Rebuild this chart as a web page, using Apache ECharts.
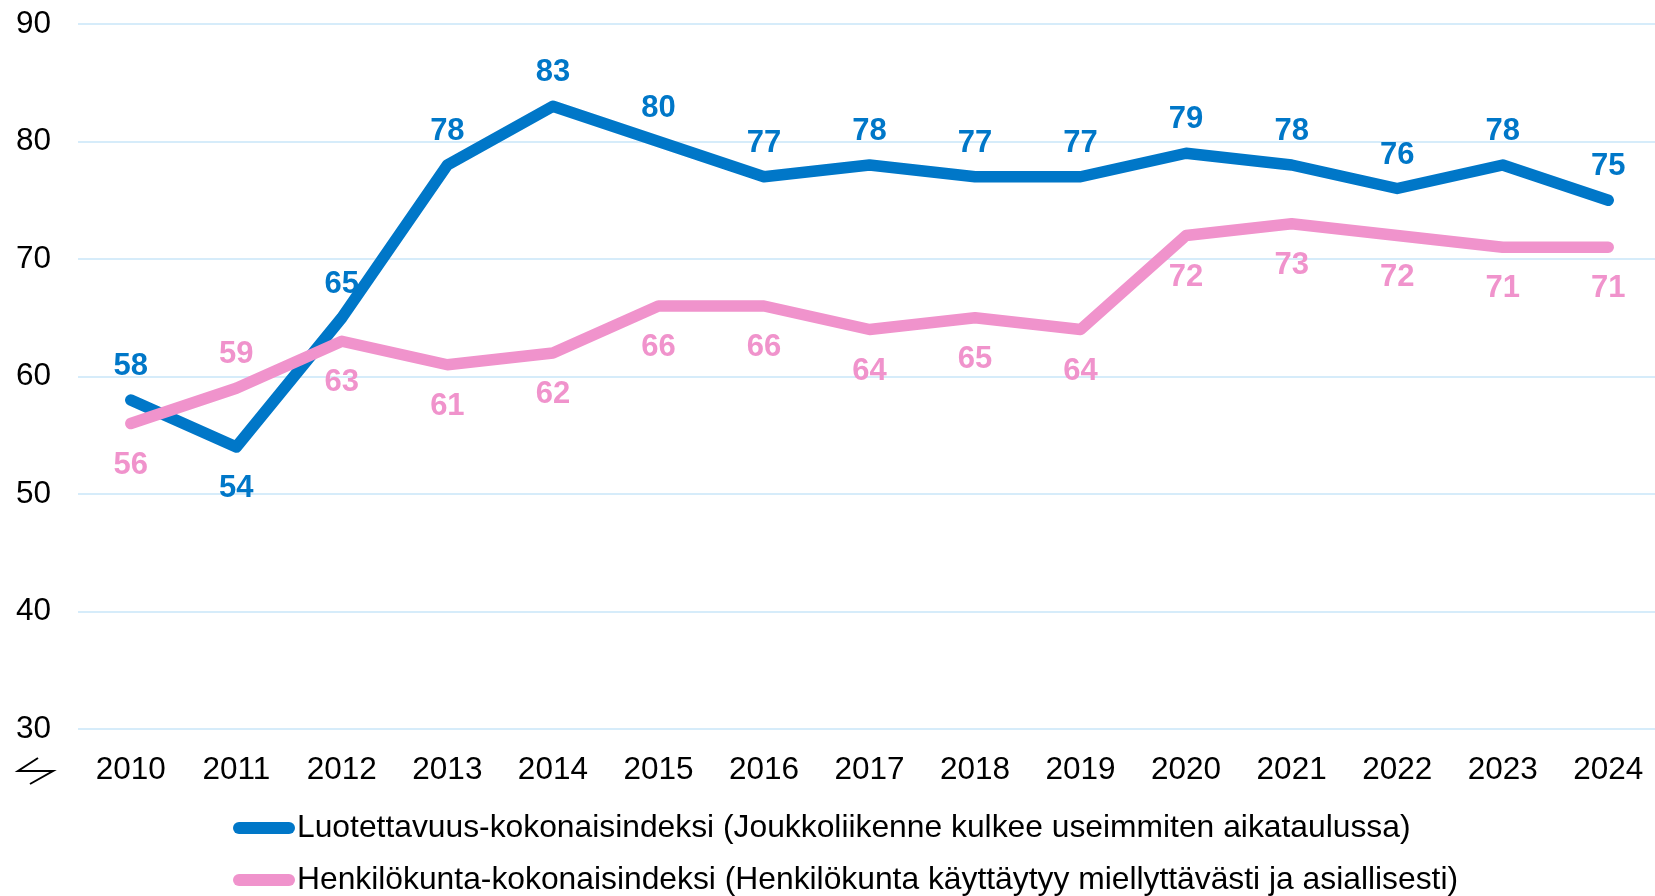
<!DOCTYPE html>
<html>
<head>
<meta charset="utf-8">
<script src="https://cdn.jsdelivr.net/npm/echarts@6/dist/echarts.min.js"></script>
<style>
    html, body { margin: 0; padding: 0; background: #fff; }
    #chart { width: 1655px; height: 896px; }
</style>
</head>
<body>
<div id="chart"></div>
<script>
    var years = ['2010', '2011', '2012', '2013', '2014', '2015', '2016', '2017', '2018', '2019', '2020', '2021', '2022', '2023', '2024'];
    var luotettavuus = [58, 54, 65, 78, 83, 80, 77, 78, 77, 77, 79, 78, 76, 78, 75];
    var henkilokunta = [56, 59, 63, 61, 62, 66, 66, 64, 65, 64, 72, 73, 72, 71, 71];
    // label above (true) or below (false) the point
    var blueAbove = [true, false, true, true, true, true, true, true, true, true, true, true, true, true, true];
    var pinkAbove = [false, true, false, false, false, false, false, false, false, false, false, false, false, false, false];

    var seriesNames = [
        'Luotettavuus-kokonaisindeksi (Joukkoliikenne kulkee useimmiten aikataulussa)',
        'Henkilökunta-kokonaisindeksi (Henkilökunta käyttäytyy miellyttävästi ja asiallisesti)'
    ];
    var blue = '#0077c8', pink = '#f093cc';
    var font = 'Liberation Sans, Arial, sans-serif';

    function buildData(values, above){
        return values.map(function(v, i){
            return {
                value: v,
                label: above[i] ? { position: 'top', distance: 17 } : { position: 'bottom', distance: 25 }
            };
        });
    }

    function lineSeries(name, color, values, above){
        return {
            name: name,
            type: 'line',
            data: buildData(values, above),
            symbol: 'circle',
            symbolSize: 2,
            showSymbol: true,
            lineStyle: { color: color, width: 11.5, cap: 'round', join: 'round' },
            itemStyle: { color: color },
            label: {
                show: true,
                color: color,
                fontFamily: font,
                fontSize: 31,
                fontWeight: 'bold'
            }
        };
    }

    var legendIcon = 'path://M6,0 H56 A6,6 0 0 1 56,12 H6 A6,6 0 0 1 6,0 Z';

    function legendRow(name, top){
        return {
            orient: 'horizontal',
            left: 233,
            top: top,
            padding: 0,
            itemWidth: 62,
            itemHeight: 12,
            icon: legendIcon,
            textStyle: { color: '#000', fontFamily: font, fontSize: 31.8, padding: [0, 0, 0, -3] },
            data: [name]
        };
    }

    var myChart = echarts.init(document.getElementById('chart'));

    var option = {
        animation: false,
        grid: { left: 78, right: -6, top: 24, bottom: 167, outerBoundsMode: 'none', containLabel: false },
        xAxis: {
            type: 'category',
            data: years,
            boundaryGap: true,
            axisLine: { show: false },
            axisTick: { show: false },
            axisLabel: { color: '#000', fontFamily: font, fontSize: 31.5, margin: 25 }
        },
        yAxis: {
            type: 'value',
            min: 30,
            max: 90,
            interval: 10,
            axisLine: { show: false },
            axisTick: { show: false },
            axisLabel: { color: '#000', fontFamily: font, fontSize: 31.5, margin: 27 },
            splitLine: { lineStyle: { color: '#d6ecfa', width: 2 } }
        },
        legend: [
            legendRow(seriesNames[0], 812),
            legendRow(seriesNames[1], 864)
        ],
        graphic: [{
            type: 'polyline',
            shape: { points: [[38, 758], [18, 771], [53, 771], [30, 784]] },
            style: { stroke: '#000', lineWidth: 2, fill: null }
        }],
        series: [
            lineSeries(seriesNames[0], blue, luotettavuus, blueAbove),
            lineSeries(seriesNames[1], pink, henkilokunta, pinkAbove)
        ]
    };

    myChart.setOption(option);
</script>
</body>
</html>
